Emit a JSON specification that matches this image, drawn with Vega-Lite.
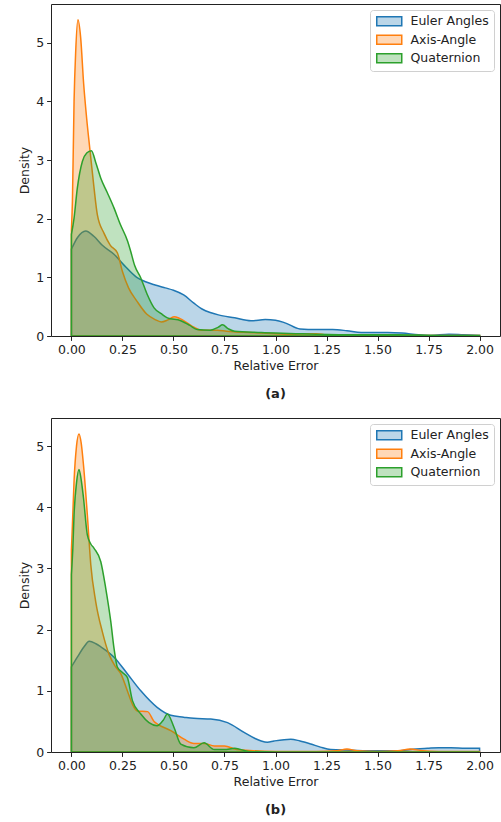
{
  "$schema": "https://vega.github.io/schema/vega-lite/v6.json",
  "background": "white",
  "padding": {"left": 18, "top": 3, "right": 0, "bottom": 0},
  "spacing": 15,
  "config": {
    "font": "DejaVu Sans",
    "view": {"stroke": "#222222", "strokeWidth": 1},
    "axis": {"labelFontSize": 12.5, "titleFontSize": 12.5, "labelColor": "#222222", "titleColor": "#222222", "titleFontWeight": "normal", "grid": false, "tickSize": 4.4, "tickColor": "#222222", "domain": false, "labelPadding": 3, "titlePadding": 4},
    "title": {"fontSize": 13, "fontWeight": "bold", "orient": "bottom", "color": "#222222", "offset": 16}
  },
  "datasets": {
    "a": [
      {"series": "Euler Angles", "error": 0, "density": 1.48},
      {"series": "Euler Angles", "error": 0.03, "density": 1.68},
      {"series": "Euler Angles", "error": 0.07, "density": 1.79},
      {"series": "Euler Angles", "error": 0.11, "density": 1.7},
      {"series": "Euler Angles", "error": 0.15, "density": 1.55},
      {"series": "Euler Angles", "error": 0.21, "density": 1.39},
      {"series": "Euler Angles", "error": 0.26, "density": 1.2},
      {"series": "Euler Angles", "error": 0.32, "density": 1.0},
      {"series": "Euler Angles", "error": 0.36, "density": 0.93},
      {"series": "Euler Angles", "error": 0.41, "density": 0.87},
      {"series": "Euler Angles", "error": 0.46, "density": 0.82},
      {"series": "Euler Angles", "error": 0.5, "density": 0.78},
      {"series": "Euler Angles", "error": 0.55, "density": 0.7},
      {"series": "Euler Angles", "error": 0.6, "density": 0.56},
      {"series": "Euler Angles", "error": 0.64, "density": 0.46},
      {"series": "Euler Angles", "error": 0.68, "density": 0.4},
      {"series": "Euler Angles", "error": 0.72, "density": 0.36},
      {"series": "Euler Angles", "error": 0.8, "density": 0.31},
      {"series": "Euler Angles", "error": 0.88, "density": 0.26},
      {"series": "Euler Angles", "error": 0.95, "density": 0.28},
      {"series": "Euler Angles", "error": 1.0, "density": 0.27},
      {"series": "Euler Angles", "error": 1.05, "density": 0.22},
      {"series": "Euler Angles", "error": 1.12, "density": 0.12},
      {"series": "Euler Angles", "error": 1.2, "density": 0.11},
      {"series": "Euler Angles", "error": 1.28, "density": 0.11},
      {"series": "Euler Angles", "error": 1.35, "density": 0.09},
      {"series": "Euler Angles", "error": 1.42, "density": 0.06},
      {"series": "Euler Angles", "error": 1.55, "density": 0.06},
      {"series": "Euler Angles", "error": 1.62, "density": 0.05},
      {"series": "Euler Angles", "error": 1.7, "density": 0.02},
      {"series": "Euler Angles", "error": 1.76, "density": 0.01},
      {"series": "Euler Angles", "error": 1.85, "density": 0.03},
      {"series": "Euler Angles", "error": 1.92, "density": 0.02},
      {"series": "Euler Angles", "error": 2.0, "density": 0.01},
      {"series": "Axis-Angle", "error": 0, "density": 1.8},
      {"series": "Axis-Angle", "error": 0.005, "density": 2.3},
      {"series": "Axis-Angle", "error": 0.013, "density": 4.0},
      {"series": "Axis-Angle", "error": 0.021, "density": 4.85},
      {"series": "Axis-Angle", "error": 0.032, "density": 5.39},
      {"series": "Axis-Angle", "error": 0.045, "density": 5.1},
      {"series": "Axis-Angle", "error": 0.06, "density": 4.3},
      {"series": "Axis-Angle", "error": 0.075, "density": 3.7},
      {"series": "Axis-Angle", "error": 0.09, "density": 3.2},
      {"series": "Axis-Angle", "error": 0.11, "density": 2.55},
      {"series": "Axis-Angle", "error": 0.127, "density": 2.07},
      {"series": "Axis-Angle", "error": 0.16, "density": 1.75},
      {"series": "Axis-Angle", "error": 0.19, "density": 1.55},
      {"series": "Axis-Angle", "error": 0.225, "density": 1.42},
      {"series": "Axis-Angle", "error": 0.25, "density": 1.1},
      {"series": "Axis-Angle", "error": 0.28, "density": 0.82},
      {"series": "Axis-Angle", "error": 0.32, "density": 0.6},
      {"series": "Axis-Angle", "error": 0.37, "density": 0.37},
      {"series": "Axis-Angle", "error": 0.41, "density": 0.28},
      {"series": "Axis-Angle", "error": 0.44, "density": 0.24},
      {"series": "Axis-Angle", "error": 0.47, "density": 0.27},
      {"series": "Axis-Angle", "error": 0.503, "density": 0.33},
      {"series": "Axis-Angle", "error": 0.53, "density": 0.3},
      {"series": "Axis-Angle", "error": 0.569, "density": 0.22},
      {"series": "Axis-Angle", "error": 0.6, "density": 0.15},
      {"series": "Axis-Angle", "error": 0.634, "density": 0.1},
      {"series": "Axis-Angle", "error": 0.68, "density": 0.1},
      {"series": "Axis-Angle", "error": 0.716, "density": 0.1},
      {"series": "Axis-Angle", "error": 0.76, "density": 0.08},
      {"series": "Axis-Angle", "error": 0.8, "density": 0.07},
      {"series": "Axis-Angle", "error": 0.87, "density": 0.06},
      {"series": "Axis-Angle", "error": 0.93, "density": 0.05},
      {"series": "Axis-Angle", "error": 1.0, "density": 0.04},
      {"series": "Axis-Angle", "error": 1.08, "density": 0.03},
      {"series": "Axis-Angle", "error": 1.16, "density": 0.04},
      {"series": "Axis-Angle", "error": 1.2, "density": 0.04},
      {"series": "Axis-Angle", "error": 1.25, "density": 0.02},
      {"series": "Axis-Angle", "error": 1.4, "density": 0.01},
      {"series": "Axis-Angle", "error": 1.6, "density": 0.01},
      {"series": "Axis-Angle", "error": 1.8, "density": 0.01},
      {"series": "Axis-Angle", "error": 2.0, "density": 0.01},
      {"series": "Quaternion", "error": 0, "density": 1.73},
      {"series": "Quaternion", "error": 0.013, "density": 2.01},
      {"series": "Quaternion", "error": 0.029, "density": 2.52},
      {"series": "Quaternion", "error": 0.054, "density": 2.98},
      {"series": "Quaternion", "error": 0.075, "density": 3.12},
      {"series": "Quaternion", "error": 0.098, "density": 3.16},
      {"series": "Quaternion", "error": 0.12, "density": 2.95},
      {"series": "Quaternion", "error": 0.144, "density": 2.69},
      {"series": "Quaternion", "error": 0.175, "density": 2.45},
      {"series": "Quaternion", "error": 0.209, "density": 2.18},
      {"series": "Quaternion", "error": 0.24, "density": 1.9},
      {"series": "Quaternion", "error": 0.275, "density": 1.62},
      {"series": "Quaternion", "error": 0.29, "density": 1.45},
      {"series": "Quaternion", "error": 0.31, "density": 1.2},
      {"series": "Quaternion", "error": 0.34, "density": 0.99},
      {"series": "Quaternion", "error": 0.37, "density": 0.72},
      {"series": "Quaternion", "error": 0.405, "density": 0.48},
      {"series": "Quaternion", "error": 0.44, "density": 0.38},
      {"series": "Quaternion", "error": 0.47, "density": 0.31},
      {"series": "Quaternion", "error": 0.536, "density": 0.26},
      {"series": "Quaternion", "error": 0.58, "density": 0.18},
      {"series": "Quaternion", "error": 0.617, "density": 0.11},
      {"series": "Quaternion", "error": 0.68, "density": 0.1},
      {"series": "Quaternion", "error": 0.72, "density": 0.15},
      {"series": "Quaternion", "error": 0.74, "density": 0.19},
      {"series": "Quaternion", "error": 0.77, "density": 0.12},
      {"series": "Quaternion", "error": 0.8, "density": 0.08},
      {"series": "Quaternion", "error": 0.93, "density": 0.06},
      {"series": "Quaternion", "error": 1.0, "density": 0.05},
      {"series": "Quaternion", "error": 1.1, "density": 0.04},
      {"series": "Quaternion", "error": 1.2, "density": 0.03},
      {"series": "Quaternion", "error": 1.4, "density": 0.02},
      {"series": "Quaternion", "error": 1.6, "density": 0.02},
      {"series": "Quaternion", "error": 1.8, "density": 0.01},
      {"series": "Quaternion", "error": 2.0, "density": 0.01}
    ],
    "b": [
      {"series": "Euler Angles", "error": 0, "density": 1.39},
      {"series": "Euler Angles", "error": 0.029, "density": 1.55},
      {"series": "Euler Angles", "error": 0.062, "density": 1.72},
      {"series": "Euler Angles", "error": 0.087, "density": 1.81},
      {"series": "Euler Angles", "error": 0.12, "density": 1.77},
      {"series": "Euler Angles", "error": 0.144, "density": 1.72},
      {"series": "Euler Angles", "error": 0.209, "density": 1.55},
      {"series": "Euler Angles", "error": 0.274, "density": 1.28},
      {"series": "Euler Angles", "error": 0.34, "density": 1.0},
      {"series": "Euler Angles", "error": 0.42, "density": 0.73},
      {"series": "Euler Angles", "error": 0.487, "density": 0.6},
      {"series": "Euler Angles", "error": 0.55, "density": 0.57},
      {"series": "Euler Angles", "error": 0.6, "density": 0.55},
      {"series": "Euler Angles", "error": 0.683, "density": 0.54},
      {"series": "Euler Angles", "error": 0.765, "density": 0.48},
      {"series": "Euler Angles", "error": 0.846, "density": 0.32},
      {"series": "Euler Angles", "error": 0.9, "density": 0.22},
      {"series": "Euler Angles", "error": 0.93, "density": 0.18},
      {"series": "Euler Angles", "error": 0.96, "density": 0.16},
      {"series": "Euler Angles", "error": 0.993, "density": 0.18},
      {"series": "Euler Angles", "error": 1.075, "density": 0.21},
      {"series": "Euler Angles", "error": 1.12, "density": 0.18},
      {"series": "Euler Angles", "error": 1.173, "density": 0.13},
      {"series": "Euler Angles", "error": 1.22, "density": 0.08},
      {"series": "Euler Angles", "error": 1.27, "density": 0.04},
      {"series": "Euler Angles", "error": 1.37, "density": 0.03},
      {"series": "Euler Angles", "error": 1.45, "density": 0.02},
      {"series": "Euler Angles", "error": 1.53, "density": 0.02},
      {"series": "Euler Angles", "error": 1.61, "density": 0.02},
      {"series": "Euler Angles", "error": 1.66, "density": 0.04},
      {"series": "Euler Angles", "error": 1.745, "density": 0.06},
      {"series": "Euler Angles", "error": 1.8, "density": 0.07},
      {"series": "Euler Angles", "error": 1.86, "density": 0.07},
      {"series": "Euler Angles", "error": 1.93, "density": 0.06},
      {"series": "Euler Angles", "error": 2.0, "density": 0.06},
      {"series": "Axis-Angle", "error": 0, "density": 3.3},
      {"series": "Axis-Angle", "error": 0.005, "density": 3.72},
      {"series": "Axis-Angle", "error": 0.013, "density": 4.43},
      {"series": "Axis-Angle", "error": 0.025, "density": 5.0},
      {"series": "Axis-Angle", "error": 0.037, "density": 5.2},
      {"series": "Axis-Angle", "error": 0.048, "density": 5.05},
      {"series": "Axis-Angle", "error": 0.059, "density": 4.7},
      {"series": "Axis-Angle", "error": 0.078, "density": 3.88},
      {"series": "Axis-Angle", "error": 0.095, "density": 3.06},
      {"series": "Axis-Angle", "error": 0.119, "density": 2.46},
      {"series": "Axis-Angle", "error": 0.152, "density": 1.96},
      {"series": "Axis-Angle", "error": 0.184, "density": 1.6},
      {"series": "Axis-Angle", "error": 0.215, "density": 1.4},
      {"series": "Axis-Angle", "error": 0.242, "density": 1.28},
      {"series": "Axis-Angle", "error": 0.274, "density": 1.0},
      {"series": "Axis-Angle", "error": 0.299, "density": 0.78},
      {"series": "Axis-Angle", "error": 0.323, "density": 0.67},
      {"series": "Axis-Angle", "error": 0.373, "density": 0.66},
      {"series": "Axis-Angle", "error": 0.405, "density": 0.5},
      {"series": "Axis-Angle", "error": 0.42, "density": 0.46},
      {"series": "Axis-Angle", "error": 0.487, "density": 0.35},
      {"series": "Axis-Angle", "error": 0.552, "density": 0.21},
      {"series": "Axis-Angle", "error": 0.6, "density": 0.14},
      {"series": "Axis-Angle", "error": 0.65, "density": 0.14},
      {"series": "Axis-Angle", "error": 0.7, "density": 0.1},
      {"series": "Axis-Angle", "error": 0.75, "density": 0.1},
      {"series": "Axis-Angle", "error": 0.81, "density": 0.04},
      {"series": "Axis-Angle", "error": 0.89, "density": 0.02},
      {"series": "Axis-Angle", "error": 1.0, "density": 0.01},
      {"series": "Axis-Angle", "error": 1.2, "density": 0.01},
      {"series": "Axis-Angle", "error": 1.3, "density": 0.02},
      {"series": "Axis-Angle", "error": 1.35, "density": 0.05},
      {"series": "Axis-Angle", "error": 1.4, "density": 0.02},
      {"series": "Axis-Angle", "error": 1.5, "density": 0.01},
      {"series": "Axis-Angle", "error": 1.6, "density": 0.02},
      {"series": "Axis-Angle", "error": 1.66, "density": 0.05},
      {"series": "Axis-Angle", "error": 1.72, "density": 0.02},
      {"series": "Axis-Angle", "error": 1.8, "density": 0.01},
      {"series": "Axis-Angle", "error": 2.0, "density": 0.01},
      {"series": "Quaternion", "error": 0, "density": 2.9},
      {"series": "Quaternion", "error": 0.007, "density": 3.33},
      {"series": "Quaternion", "error": 0.013, "density": 3.88},
      {"series": "Quaternion", "error": 0.025, "density": 4.4},
      {"series": "Quaternion", "error": 0.037, "density": 4.62},
      {"series": "Quaternion", "error": 0.048, "density": 4.45},
      {"series": "Quaternion", "error": 0.059, "density": 4.16},
      {"series": "Quaternion", "error": 0.078, "density": 3.55},
      {"series": "Quaternion", "error": 0.095, "density": 3.4},
      {"series": "Quaternion", "error": 0.111, "density": 3.33},
      {"series": "Quaternion", "error": 0.144, "density": 3.11},
      {"series": "Quaternion", "error": 0.168, "density": 2.68},
      {"series": "Quaternion", "error": 0.193, "density": 2.13},
      {"series": "Quaternion", "error": 0.209, "density": 1.69},
      {"series": "Quaternion", "error": 0.225, "density": 1.39},
      {"series": "Quaternion", "error": 0.25, "density": 1.3},
      {"series": "Quaternion", "error": 0.274, "density": 1.22},
      {"series": "Quaternion", "error": 0.299, "density": 0.84},
      {"series": "Quaternion", "error": 0.34, "density": 0.62},
      {"series": "Quaternion", "error": 0.38, "density": 0.48},
      {"series": "Quaternion", "error": 0.42, "density": 0.43},
      {"series": "Quaternion", "error": 0.45, "density": 0.52},
      {"series": "Quaternion", "error": 0.47, "density": 0.62},
      {"series": "Quaternion", "error": 0.503, "density": 0.4},
      {"series": "Quaternion", "error": 0.536, "density": 0.13},
      {"series": "Quaternion", "error": 0.6, "density": 0.07},
      {"series": "Quaternion", "error": 0.65, "density": 0.15},
      {"series": "Quaternion", "error": 0.7, "density": 0.04},
      {"series": "Quaternion", "error": 0.75, "density": 0.04},
      {"series": "Quaternion", "error": 0.8, "density": 0.06},
      {"series": "Quaternion", "error": 0.87, "density": 0.01},
      {"series": "Quaternion", "error": 1.0, "density": 0.0},
      {"series": "Quaternion", "error": 1.5, "density": 0.0},
      {"series": "Quaternion", "error": 2.0, "density": 0.0}
    ]
  },
  "resolve": {"scale": {"y": "independent"}, "legend": {"fill": "independent", "stroke": "independent"}},
  "vconcat": [
    {
      "width": 449,
      "height": 332,
      "data": {"name": "a"},
      "title": {"text": "(a)"},
      "mark": {"type": "area", "fillOpacity": 0.3, "strokeWidth": 1.5, "interpolate": "monotone", "clip": true},
      "encoding": {
        "x": {"field": "error", "type": "quantitative", "scale": {"domain": [-0.1, 2.1], "nice": false, "zero": false}, "axis": {"values": [0, 0.25, 0.5, 0.75, 1, 1.25, 1.5, 1.75, 2], "format": ".2f", "title": "Relative Error"}},
        "y": {"field": "density", "type": "quantitative", "stack": null, "scale": {"domain": [0, 5.66], "nice": false}, "axis": {"values": [0, 1, 2, 3, 4, 5], "title": "Density"}},
        "fill": {"field": "series", "type": "nominal", "scale": {"domain": ["Euler Angles", "Axis-Angle", "Quaternion"], "range": ["#1f77b4", "#ff7f0e", "#2ca02c"]},
          "legend": {"title": null, "orient": "top-right", "offset": 6, "symbolType": "M-1,-1L4.556,-1L4.556,1L-1,1Z", "symbolSize": 81, "symbolStrokeWidth": 1.5, "labelFontSize": 12.5, "labelColor": "#222222", "labelOffset": 23, "rowPadding": 2.5, "padding": 5, "strokeColor": "#d0d0d0", "fillColor": "rgba(255,255,255,0.8)", "cornerRadius": 3, "encode": {"symbols": {"update": {"fillOpacity": {"value": 0.3}}}}}},
        "stroke": {"field": "series", "type": "nominal", "scale": {"domain": ["Euler Angles", "Axis-Angle", "Quaternion"], "range": ["#1f77b4", "#ff7f0e", "#2ca02c"]},
          "legend": {"title": null, "orient": "top-right", "offset": 6, "symbolType": "M-1,-1L4.556,-1L4.556,1L-1,1Z", "symbolSize": 81, "symbolStrokeWidth": 1.5, "labelFontSize": 12.5, "labelColor": "#222222", "labelOffset": 23, "rowPadding": 2.5, "padding": 5, "strokeColor": "#d0d0d0", "fillColor": "rgba(255,255,255,0.8)", "cornerRadius": 3, "encode": {"symbols": {"update": {"fillOpacity": {"value": 0.3}}}}}}
      }
    },
    {
      "width": 449,
      "height": 334,
      "data": {"name": "b"},
      "title": {"text": "(b)"},
      "mark": {"type": "area", "fillOpacity": 0.3, "strokeWidth": 1.5, "interpolate": "monotone", "clip": true},
      "encoding": {
        "x": {"field": "error", "type": "quantitative", "scale": {"domain": [-0.1, 2.1], "nice": false, "zero": false}, "axis": {"values": [0, 0.25, 0.5, 0.75, 1, 1.25, 1.5, 1.75, 2], "format": ".2f", "title": "Relative Error"}},
        "y": {"field": "density", "type": "quantitative", "stack": null, "scale": {"domain": [0, 5.46], "nice": false}, "axis": {"values": [0, 1, 2, 3, 4, 5], "title": "Density"}},
        "fill": {"field": "series", "type": "nominal", "scale": {"domain": ["Euler Angles", "Axis-Angle", "Quaternion"], "range": ["#1f77b4", "#ff7f0e", "#2ca02c"]},
          "legend": {"title": null, "orient": "top-right", "offset": 6, "symbolType": "M-1,-1L4.556,-1L4.556,1L-1,1Z", "symbolSize": 81, "symbolStrokeWidth": 1.5, "labelFontSize": 12.5, "labelColor": "#222222", "labelOffset": 23, "rowPadding": 2.5, "padding": 5, "strokeColor": "#d0d0d0", "fillColor": "rgba(255,255,255,0.8)", "cornerRadius": 3, "encode": {"symbols": {"update": {"fillOpacity": {"value": 0.3}}}}}},
        "stroke": {"field": "series", "type": "nominal", "scale": {"domain": ["Euler Angles", "Axis-Angle", "Quaternion"], "range": ["#1f77b4", "#ff7f0e", "#2ca02c"]},
          "legend": {"title": null, "orient": "top-right", "offset": 6, "symbolType": "M-1,-1L4.556,-1L4.556,1L-1,1Z", "symbolSize": 81, "symbolStrokeWidth": 1.5, "labelFontSize": 12.5, "labelColor": "#222222", "labelOffset": 23, "rowPadding": 2.5, "padding": 5, "strokeColor": "#d0d0d0", "fillColor": "rgba(255,255,255,0.8)", "cornerRadius": 3, "encode": {"symbols": {"update": {"fillOpacity": {"value": 0.3}}}}}}
      }
    }
  ]
}
